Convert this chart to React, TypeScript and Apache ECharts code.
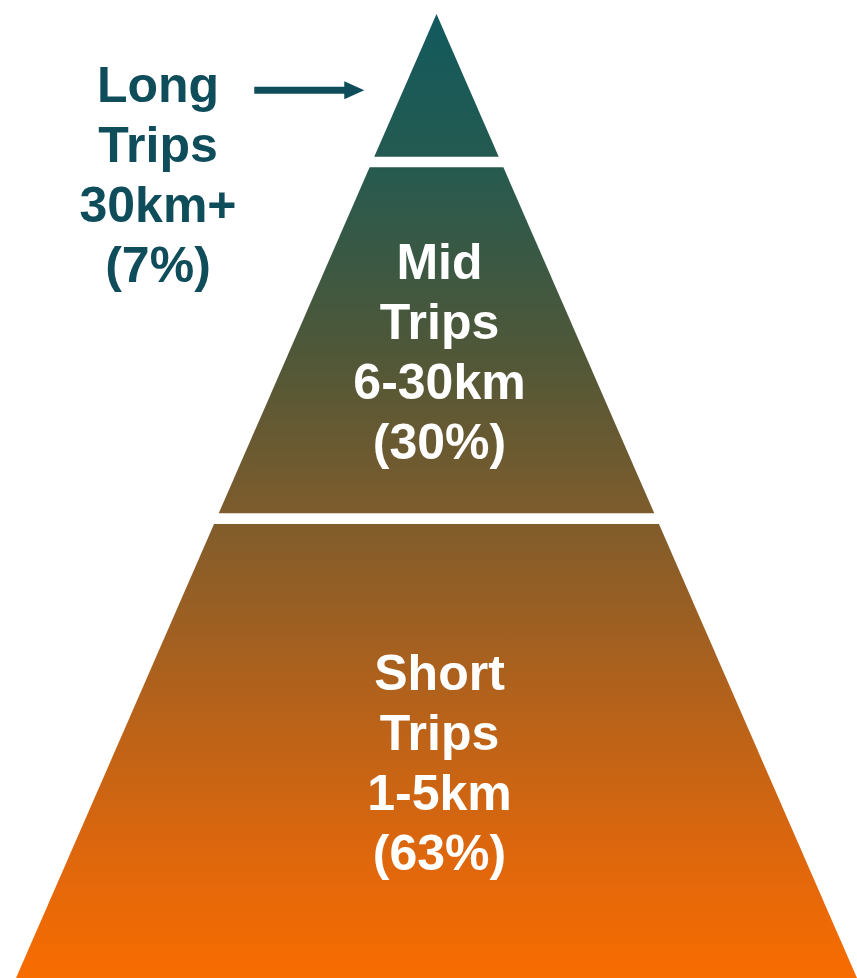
import React, { useEffect, useRef } from "react";
import * as echarts from "echarts";

// Pyramid tiers, bottom to top
const tierNames = ["Short", "Mid", "Long"];
const tierWord = "Trips";
const distances = ["1-5km", "6-30km", "30km+"];
const shares = [63, 30, 7];
// vertical extent of each tier (0 = pyramid base, 100 = apex)
const bandBottom = [0, 48.2, 85.2];
const bandTop = [47.1, 84.1, 100];

const FONT = 'Arial, "Liberation Sans", "Helvetica", sans-serif';

export default function App() {
  const ref = useRef<HTMLDivElement>(null);

  useEffect(() => {
    if (!ref.current) return;
    const chart = echarts.init(ref.current, null, { renderer: "svg" });
    const data = tierNames.map((_, i) => [bandBottom[i], bandTop[i], i]);

    const halfWidth = (y: number) => 50 * (1 - y / 100);

    const option: any = {
      animation: false,
      backgroundColor: "#ffffff",
      grid: { left: 16, right: -4, top: 14, bottom: 0 },
      xAxis: { type: "value", min: -50, max: 50, show: false },
      yAxis: { type: "value", min: 0, max: 100, show: false },
      series: [
        {
          type: "custom",
          data,
          renderItem: (params: any, api: any) => {
            const y0 = api.value(0);
            const y1 = api.value(1);
            const idx = api.value(2);
            const pts = [
              [-halfWidth(y0), y0],
              [halfWidth(y0), y0],
              [halfWidth(y1), y1],
              [-halfWidth(y1), y1],
            ].map((c) => api.coord(c));
            const topPx = api.coord([0, 100])[1];
            const basePx = api.coord([0, 0])[1];
            const fill = new echarts.graphic.LinearGradient(
              0,
              topPx,
              0,
              basePx,
              [
                { offset: 0, color: "#125a5e" },
                { offset: 0.15, color: "#245a50" },
                { offset: 0.35, color: "#4f5738" },
                { offset: 0.52, color: "#7e5c2c" },
                { offset: 0.72, color: "#b6621a" },
                { offset: 0.88, color: "#e0670c" },
                { offset: 1, color: "#f86c00" },
              ],
              true
            );
            const children: any[] = [
              {
                type: "polygon",
                shape: { points: pts },
                style: { fill },
              },
            ];
            const label = `${tierNames[idx]}\n${tierWord}\n${distances[idx]}\n(${shares[idx]}%)`;
            const cx = api.coord([0, 0])[0];
            const topY = api.coord([0, y1])[1];
            const botY = api.coord([0, y0])[1];
            if (shares[idx] >= 15) {
              children.push({
                type: "text",
                x: cx + 3,
                y: (topY + botY) / 2 + 12,
                style: {
                  text: label,
                  fill: "#ffffff",
                  font: `bold 50px ${FONT}`,
                  lineHeight: 60,
                  align: "center",
                  verticalAlign: "middle",
                },
              });
            } else {
              // outside annotation with arrow pointing at the apex tier
              const arrowY = (topY + botY) / 2 + 5;
              const arrowEnd = pts[0][0] - 10;
              const color = "#0f4d5a";
              children.push({
                type: "line",
                shape: { x1: arrowEnd - 110, y1: arrowY, x2: arrowEnd - 14, y2: arrowY },
                style: { stroke: color, lineWidth: 7 },
              });
              children.push({
                type: "polygon",
                shape: {
                  points: [
                    [arrowEnd - 20, arrowY - 9],
                    [arrowEnd, arrowY],
                    [arrowEnd - 20, arrowY + 9],
                  ],
                },
                style: { fill: color },
              });
              children.push({
                type: "text",
                x: 158,
                y: arrowY + 85,
                style: {
                  text: label,
                  fill: color,
                  font: `bold 50px ${FONT}`,
                  lineHeight: 60,
                  align: "center",
                  verticalAlign: "middle",
                },
              });
            }
            return { type: "group", children };
          },
        },
      ],
    };
    chart.setOption(option);
    return () => chart.dispose();
  }, []);

  return (
    <div
      ref={ref}
      style={{ position: "fixed", left: 0, top: 0, width: 857, height: 978 }}
    />
  );
}
